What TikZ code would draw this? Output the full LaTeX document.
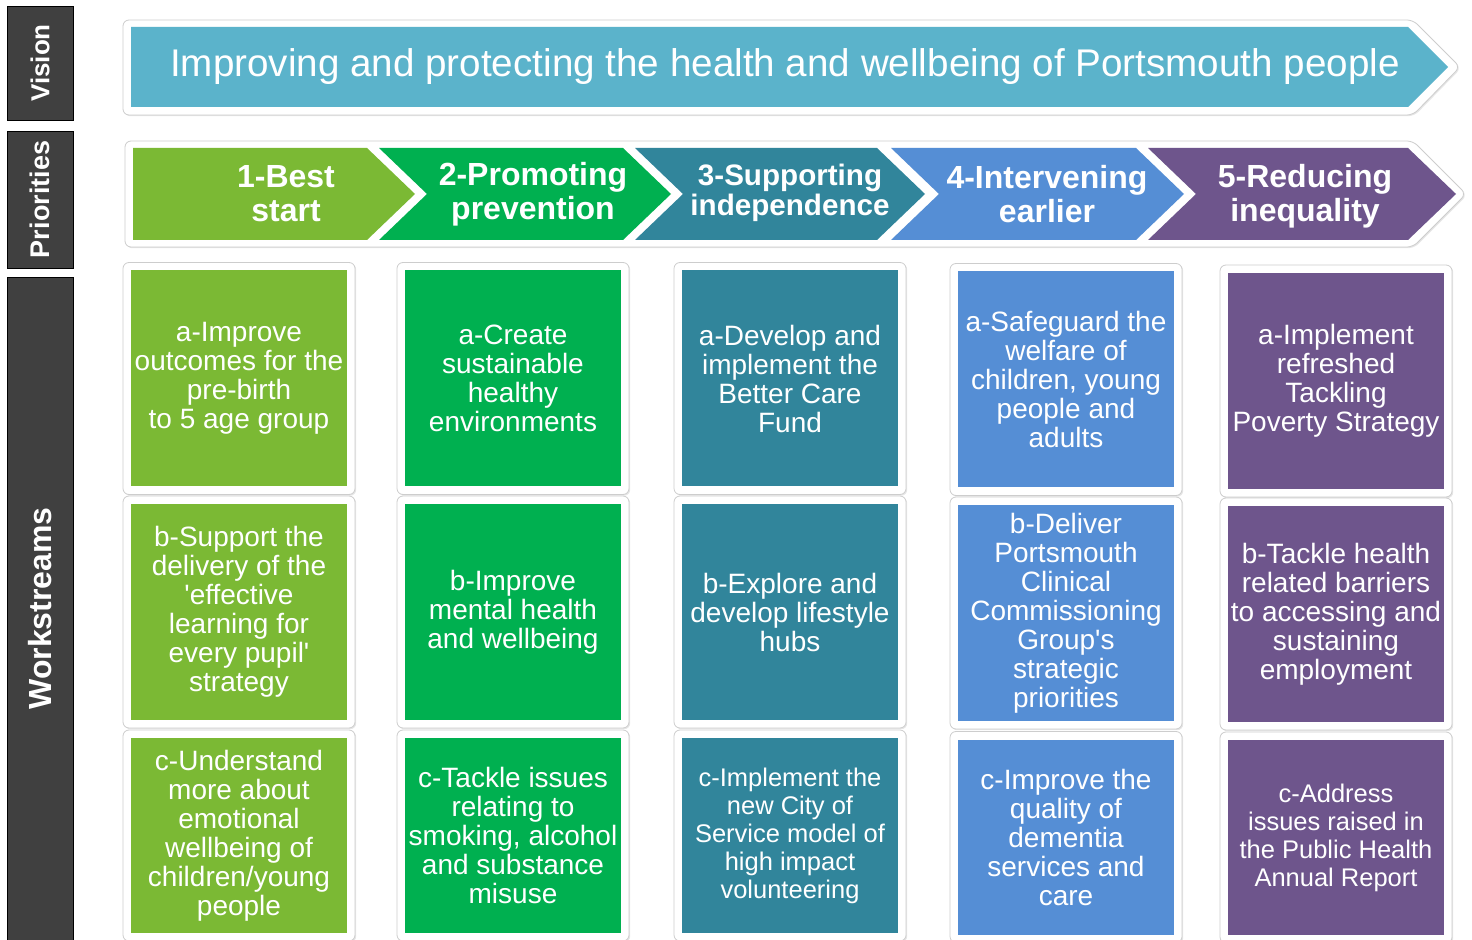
\documentclass[tikz,border=0pt]{standalone}
\usepackage{fontspec}
\setmainfont{Liberation Sans}
\usetikzlibrary{shadows}

\definecolor{visionblue}{RGB}{91,179,203}
\definecolor{bestgreen}{RGB}{123,185,52}
\definecolor{prevgreen}{RGB}{0,176,80}
\definecolor{supteal}{RGB}{49,133,155}
\definecolor{intblue}{RGB}{85,142,213}
\definecolor{redpurple}{RGB}{110,85,140}
\definecolor{labelgrey}{RGB}{64,64,64}
\definecolor{framegrey}{RGB}{205,205,205}

\tikzset{
  sidelabel/.style={fill=labelgrey, draw=black, line width=0.4pt, rotate=90,
    minimum height=33pt, inner sep=0pt, text=white,
    font=\bfseries\fontsize{13.5}{16}\selectfont},
  frame/.style={fill=white, draw=framegrey, line width=0.4pt, rounded corners=3pt,
    drop shadow={shadow xshift=0.6pt, shadow yshift=-0.6pt, opacity=0.2}},
  wsframe/.style={frame, minimum width=116pt, inner sep=0pt},
  wsbox/.style={minimum width=108pt, inner sep=0pt, align=center, text=white,
    font=\fontsize{14}{14.5}\selectfont},
  wssmall/.style={font=\fontsize{12.75}{14}\selectfont},
  prio/.style={align=center, text=white, inner sep=0pt,
    font=\bfseries\fontsize{16}{17}\selectfont},
}

%% workstream box: name, x, y, height (pt), box options, text
\newcommand{\wsbox}[6]{%
  \node[wsframe, minimum height={#4pt+8pt}] (#1f) at (#2,#3) {};
  \node[wsbox, minimum height=#4pt, #5] (#1) at (#2,#3) {#6};
}

\begin{document}
\begin{tikzpicture}[x=0.5pt,y=-0.5pt]
  \useasboundingbox (0,0) rectangle (1472,940);

  %% side labels
  \node[sidelabel, minimum width=57pt, font=\bfseries\fontsize{13}{16}\selectfont]
    (vision) at (40,63) {Vision};
  \node[sidelabel, minimum width=68.5pt] (priorities) at (40,199.5) {Priorities};
  \node[sidelabel, minimum width=331.5pt, font=\bfseries\fontsize{16}{18}\selectfont]
    (workstreams) at (40,608.5) {Workstreams};

  %% vision arrow
  \draw[frame] (123,20) -- (1413,20) -- (1460,67) -- (1413,115) -- (123,115) -- cycle;
  \fill[visionblue] (131,27) -- (1408,27) -- (1448,67) -- (1408,107) -- (131,107) -- cycle;
  \node[text=white, font=\fontsize{19.3}{22}\selectfont] (visiontext) at (785,67)
    {Improving and protecting the health and wellbeing of Portsmouth people};

  %% priority chevrons
  \draw[frame] (125,141) -- (1413,141) -- (1466,194) -- (1413,247) -- (125,247) -- cycle;
  \fill[bestgreen] (133,148) -- (367,148) -- (415,194) -- (367,240) -- (133,240) -- cycle;
  \foreach \xl/\xr/\col in {379/623/prevgreen, 635/877/supteal, 891/1136/intblue, 1148/1408/redpurple}
    \fill[\col] (\xl,148) -- (\xr,148) -- ({\xr+48},194) -- (\xr,240) -- (\xl,240)
      -- ({\xl+48},194) -- cycle;
  \node[prio] (best) at (286,194) {1-Best\\start};
  \node[prio] (prevention) at (533,194) {2-Promoting\\prevention};
  \node[prio, font=\bfseries\fontsize{14.8}{15}\selectfont] (independence) at (790,193)
    {3-Supporting\\independence};
  \node[prio] (earlier) at (1047,194) {4-Intervening\\earlier};
  \node[prio] (inequality) at (1305,196) {5-Reducing\\inequality};

  %% workstreams
  \wsbox{bestA}{239}{378.5}{108}{fill=bestgreen}{a-Improve\\outcomes for the\\pre-birth\\to 5 age group}
  \wsbox{bestB}{239}{612}{108}{fill=bestgreen}{b-Support the\\delivery of the\\\textquotesingle effective\\learning for\\every pupil\textquotesingle\\strategy}
  \wsbox{bestC}{239}{835.5}{97.5}{fill=bestgreen}{c-Understand\\more about\\emotional\\wellbeing of\\children/young\\people}

  \wsbox{prevA}{513}{378.5}{108}{fill=prevgreen}{a-Create\\sustainable\\healthy\\environments}
  \wsbox{prevB}{513}{612}{108}{fill=prevgreen}{b-Improve\\mental health\\and wellbeing}
  \wsbox{prevC}{513}{835.5}{97.5}{fill=prevgreen}{c-Tackle issues\\relating to\\smoking, alcohol\\and substance\\misuse}

  \wsbox{indA}{790}{378.5}{108}{fill=supteal}{a-Develop and\\implement the\\Better Care\\Fund}
  \wsbox{indB}{790}{612}{108}{fill=supteal}{b-Explore and\\develop lifestyle\\hubs}
  \wsbox{indC}{790}{835.5}{97.5}{fill=supteal, wssmall}{c-Implement the\\new City of\\Service model of\\high impact\\volunteering}

  \wsbox{earA}{1066}{379.5}{108}{fill=intblue}{a-Safeguard the\\welfare of\\children, young\\people and\\adults}
  \wsbox{earB}{1066}{613}{108}{fill=intblue}{b-Deliver\\Portsmouth\\Clinical\\Commissioning\\Group\textquotesingle s\\strategic\\priorities}
  \wsbox{earC}{1066}{837}{97.5}{fill=intblue}{c-Improve the\\quality of\\dementia\\services and\\care}

  \wsbox{ineqA}{1336}{381}{108}{fill=redpurple}{a-Implement\\refreshed\\Tackling\\Poverty Strategy}
  \wsbox{ineqB}{1336}{614}{108}{fill=redpurple}{b-Tackle health\\related barriers\\to accessing and\\sustaining\\employment}
  \wsbox{ineqC}{1336}{837.5}{97.5}{fill=redpurple, wssmall}{c-Address\\issues raised in\\the Public Health\\Annual Report}
\end{tikzpicture}
\end{document}
